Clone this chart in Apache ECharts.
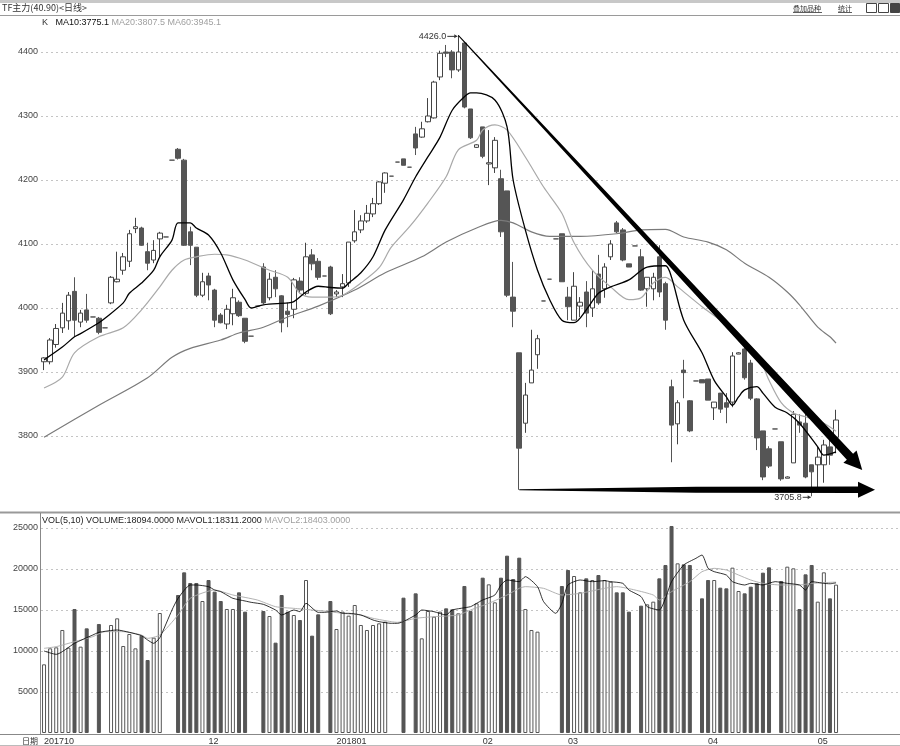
<!DOCTYPE html>
<html><head><meta charset="utf-8">
<script src="https://cdn.jsdelivr.net/npm/echarts@6/dist/echarts.min.js"></script>
<style>html,body{margin:0;padding:0;background:#fff}#c{width:900px;height:746px}</style>
</head><body><div id="c"></div>
<script>
// ---- data ----
const openP = [3916,3916,3943,3969,3980,4026,3978,3997,3986,3984,
3969,4008,4041,4059,4073,4124,4125,4088,4075,4108,
4111,4231,4248,4231,4119,4095,4020,4050,4028,3989,
3975,3991,4009,3984,3956,4003,4064,4016,4048,4019,
3995,3998,4042,4023,4083,4073,4050,4064,4022,4033,
4039,4105,4122,4136,4147,4163,4195,4206,4228,4233,
4220,4272,4267,4291,4297,4361,4400,4400,4372,4414,
4311,4251,4283,4225,4219,4202,4183,4017,3930,3820,
3883,3927,4011,4045,4108,4116,4017,3981,4003,4025,
4000,4053,4030,4080,4133,4122,4069,4097,4080,4030,
4030,4080,4038,3877,3819,3903,3855,3886,3888,3889,
3844,3867,3852,3853,3928,3936,3914,3858,3808,3780,
3811,3791,3734,3758,3822,3820,3755,3755,3755,3783,
3798];
const closeP = [3922,3950,3968,3992,4020,3981,3992,3981,3986,3962,
3969,4048,4045,4080,4116,4127,4098,4070,4090,4117,
4111,4231,4234,4098,4098,4020,4041,4036,3981,3977,
3998,4016,3988,3948,3956,4003,4008,4045,4030,3977,
3990,4044,4028,4080,4069,4048,4050,3991,4025,4038,
4103,4119,4136,4148,4163,4197,4211,4206,4228,4223,
4220,4250,4280,4300,4353,4398,4398,4372,4400,4314,
4266,4255,4237,4227,4262,4119,4020,3995,3781,3864,
3903,3952,4011,4045,4108,4041,4002,4034,4009,3992,
4030,4008,4064,4100,4119,4075,4064,4097,4028,4048,
4048,4025,3981,3817,3852,3899,3808,3886,3883,3856,
3853,3842,3845,3925,3930,3891,3859,3797,3736,3753,
3811,3733,3736,3834,3817,3736,3744,3767,3786,3770,
3825];
const lowP = [3903,3912,3938,3961,3966,3955,3970,3977,3986,3959,
3969,4006,4040,4052,4064,4117,4097,4059,4070,4080,
4111,4231,4232,4097,4067,4017,4017,4012,3970,3976,
3967,3973,3986,3945,3956,4003,4006,4012,4017,3962,
3970,3984,4023,4020,4059,4044,4050,3989,4017,4017,
4033,4102,4117,4133,4142,4161,4180,4206,4228,4223,
4220,4239,4266,4290,4296,4356,4392,4359,4369,4312,
4264,4250,4234,4192,4211,4111,4017,3970,3716,3805,
3883,3905,4011,4045,4108,4041,3981,3981,3986,3970,
3986,4005,4016,4075,4117,4073,4064,4097,4027,4002,
4012,4017,3966,3759,3787,3859,3806,3886,3883,3856,
3825,3836,3820,3845,3928,3888,3856,3778,3731,3750,
3811,3730,3734,3758,3805,3734,3705.8,3720,3727,3755,
3773];
const highP = [3923,3953,3975,4008,4025,4048,3997,4022,3986,3986,
3969,4050,4088,4086,4122,4141,4127,4102,4106,4119,
4111,4231,4250,4233,4127,4095,4055,4055,4030,3992,
4005,4030,4012,3984,3956,4003,4070,4055,4059,4020,
4008,4047,4048,4102,4092,4078,4050,4066,4028,4053,
4103,4153,4145,4161,4172,4198,4212,4206,4228,4233,
4220,4283,4291,4328,4355,4402,4411,4403,4426,4415,
4311,4256,4283,4278,4267,4216,4183,4072,3930,3883,
3966,3958,4011,4045,4108,4116,4033,4056,4017,4042,
4059,4083,4070,4106,4136,4125,4069,4097,4092,4048,
4055,4098,4041,3888,3856,3919,3856,3886,3888,3889,
3853,3867,3867,3931,3931,3947,3919,3859,3808,3784,
3811,3791,3737,3839,3834,3836,3755,3783,3794,3797,
3841];
const volume = [8374,10325,10447,12561,10406,15122,10528,12764,null,13293,
null,13170,13984,10610,12073,10325,11870,8902,11626,14634,
null,null,16829,19593,18293,18293,16097,18658,17236,16097,
15122,15122,17154,14797,null,null,14878,14268,11016,16829,
14797,14390,13780,18658,11870,14471,null,16097,12683,14797,
14309,15610,13171,12561,13171,13374,13577,null,null,16504,
null,17032,11545,14878,14187,14797,15203,15081,14593,17927,
14878,15813,18943,18130,15935,18943,21626,18780,21382,15122,
12561,12358,null,null,null,17927,19878,19146,17154,18862,
18658,19268,18658,18455,17154,17154,14797,null,15528,15691,
16016,18862,20488,25244,20691,20569,20488,null,16423,18658,
18658,17723,17642,20162,17317,17032,17845,18252,19553,20203,
null,18536,20284,20081,15122,19349,20488,16016,19593,16423,
18094];
// moving-average curves: [candle index, value]
const ma10Pts = [[0,3919],[3,3939],[5,3955],[6,3960],[9,3977],[10,3984],[13,4008],[14,4023],[16,4039],[18,4059],[19,4080],[21,4106],[22,4133],[24,4133],[25,4125],[27,4114],[29,4086],[31,4044],[33,4013],[34,4000],[36,4005],[40,4008],[41,4010],[43,4025],[45,4034],[47,4032],[49,4031],[50,4039],[52,4055],[54,4080],[56,4122],[59,4169],[61,4205],[63,4236],[65,4267],[67,4309],[69,4330],[70,4336],[71,4336],[74,4325],[76,4283],[77,4200],[79,4122],[81,4059],[83,4013],[85,3981],[87,3977],[89,3997],[91,4023],[93,4033],[96,4044],[99,4064],[102,4066],[103,4048],[105,3981],[108,3930],[110,3887],[112,3861],[113,3848],[114,3861],[115,3872],[117,3877],[118,3867],[120,3845],[122,3836],[124,3820],[127,3783],[128,3770],[130,3775.1]];
const ma20Pts = [[0,3875],[3,3892],[5,3930],[9,3955],[13,3969],[16,3997],[19,4033],[21,4059],[23,4075],[25,4080],[28,4084],[30,4083],[33,4075],[36,4063],[37,4059],[40,4048],[42,4023],[44,4017],[47,4017],[49,4020],[52,4039],[55,4063],[57,4095],[60,4127],[63,4164],[66,4205],[68,4247],[71,4262],[72,4278],[74,4286],[76,4278],[79,4236],[82,4189],[85,4148],[87,4102],[90,4059],[93,4033],[96,4013],[98,4016],[100,4039],[102,4048],[104,4033],[108,4002],[111,3981],[114,3955],[117,3930],[119,3887],[121,3852],[123,3836],[125,3830],[128,3820],[130,3807.5]];
const ma60Pts = [[0,3798],[9,3848],[17,3891],[21,3923],[24,3937],[29,3950],[32,3961],[36,3970],[40,3986],[45,4003],[51,4028],[56,4055],[62,4080],[66,4103],[71,4125],[75,4137],[77,4133],[80,4119],[83,4112],[88,4112],[94,4116],[98,4122],[102,4123],[105,4111],[109,4103],[112,4091],[115,4070],[119,4048],[122,4025],[124,4005],[127,3970],[129,3955],[130,3945.1]];
const mavol1Pts = [[0,10000],[2,9593],[5,10935],[8,11951],[9,12276],[12,12561],[14,12276],[16,11870],[17,11341],[18,10935],[19,11626],[21,15000],[22,16423],[24,18049],[25,18049],[27,17845],[28,17439],[29,17236],[30,16829],[31,16423],[33,16097],[34,15935],[36,15691],[38,15000],[39,14390],[41,15000],[42,14797],[43,15813],[45,14715],[46,14715],[48,14878],[49,14593],[50,14593],[52,14390],[54,13780],[55,13577],[57,13374],[58,13374],[61,14390],[62,15000],[64,14797],[66,14390],[67,15000],[70,15406],[71,15813],[72,16220],[74,16829],[75,18049],[76,18658],[78,18455],[79,19065],[81,17845],[82,16016],[84,14593],[85,15813],[86,18049],[88,18658],[90,18455],[92,18577],[93,18455],[95,18252],[96,17439],[98,16626],[99,15406],[101,15000],[102,16423],[103,18455],[105,20488],[107,21301],[108,21707],[109,20081],[110,19675],[112,19268],[113,18455],[115,18049],[116,18252],[118,18049],[120,18455],[122,18252],[124,18049],[125,17439],[126,18455],[128,18252],[129,18200],[130,18311.2]];
const mavol2Pts = [[0,10325],[2,10528],[5,11138],[8,11748],[10,12358],[13,12358],[16,11951],[17,11545],[19,11951],[22,14390],[24,16423],[28,17439],[31,16829],[35,16220],[38,15406],[41,15203],[44,15000],[46,14878],[49,14593],[52,14390],[54,13984],[57,13577],[58,13496],[61,13984],[64,14187],[68,14390],[70,15000],[73,15813],[76,16829],[78,17642],[79,17845],[82,17642],[85,16829],[88,17032],[92,17642],[94,17845],[97,17439],[100,16829],[101,16220],[103,17236],[106,18455],[108,19675],[110,20081],[112,19878],[114,19268],[116,18658],[118,18252],[121,18049],[124,18049],[126,18252],[128,18333],[130,18403]];
const monthTicks = {0:'201710',27:'12',48:'201801',72:'02',86:'03',109:'04',127:'05'};
const priceTicks = [3800,3900,4000,4100,4200,4300,4400];
const volTicks = [5000,10000,15000,20000,25000];
const emptySlots = 10;
const categories = [];
for (let i = 0; i < openP.length + emptySlots; i++) categories.push(String(i));
// drawn annotations, in data coordinates [index, price]
const peakPt = [68, 4426.0];
const lowPt = [126, 3705.8];
const trendTip = [134.3, 3747];
const flatFrom = [78, 3716], flatMid = [107, 3716], flatTip = [136.4, 3716];

// ---- chart ----
const FONT = '"Liberation Sans", Arial, sans-serif';
const CJK = '"Noto Sans CJK SC", sans-serif';
const chart = echarts.init(document.getElementById('c'), null, {renderer:'canvas', width:900, height:746});
const candleData = openP.map((o, i) => [o, closeP[i], lowP[i], highP[i]]);
const volData = volume.map((v, i) => v == null ? '-' : {
  value: v,
  itemStyle: closeP[i] >= openP[i]
    ? {color:'#ffffff', borderColor:'#555', borderWidth:1}
    : {color:'#555555', borderColor:'#555', borderWidth:1}
});
const gridLine = {show:true, showMinLine:false, showMaxLine:false, lineStyle:{color:'#c4c4c4', type:[2,3], width:1}};
const option = {
  animation:false,
  backgroundColor:'#ffffff',
  grid:[
    {left:41, width:859, top:13.6, height:486.4},
    {left:41, width:859, top:519.8, height:213.2}
  ],
  xAxis:[
    {type:'category', data:categories, gridIndex:0, show:false, boundaryGap:true},
    {type:'category', data:categories, gridIndex:1, boundaryGap:true,
     axisLine:{show:false}, axisTick:{show:false}, splitLine:{show:false},
     axisLabel:{interval:(i) => monthTicks[i] !== undefined, formatter:(v, i) => monthTicks[i] || '',
       align:'left', margin:4, fontSize:9, color:'#333', fontFamily:FONT}}
  ],
  yAxis:[
    {type:'value', gridIndex:0, min:3700, max:4460, interval:100, axisLine:{show:false}, axisTick:{show:false},
     axisLabel:{formatter:(v) => priceTicks.includes(v) ? String(v) : '', fontSize:9, color:'#444', margin:3, fontFamily:FONT},
     splitLine:gridLine},
    {type:'value', gridIndex:1, min:0, max:26000, interval:5000, axisLine:{show:false}, axisTick:{show:false},
     axisLabel:{formatter:(v) => volTicks.includes(v) ? String(v) : '', fontSize:9, color:'#444', margin:3, fontFamily:FONT},
     splitLine:gridLine}
  ],
  series:[
    {type:'candlestick', xAxisIndex:0, yAxisIndex:0, data:candleData, barWidth:5,
     itemStyle:{color:'#ffffff', color0:'#555555', borderColor:'#444', borderColor0:'#555', borderColorDoji:'#555', borderWidth:1}},
    {type:'line', xAxisIndex:0, yAxisIndex:0, data:ma60Pts, smooth:0.3, symbol:'none', lineStyle:{color:'#7a7a7a', width:1.2}},
    {type:'line', xAxisIndex:0, yAxisIndex:0, data:ma20Pts, smooth:0.3, symbol:'none', lineStyle:{color:'#a9a9a9', width:1.2}},
    {type:'line', xAxisIndex:0, yAxisIndex:0, data:ma10Pts, smooth:0.3, symbol:'none', lineStyle:{color:'#000', width:1.3}},
    {type:'bar', xAxisIndex:1, yAxisIndex:1, data:volData, barWidth:4},
    {type:'line', xAxisIndex:1, yAxisIndex:1, data:mavol2Pts, smooth:0.2, symbol:'none', lineStyle:{color:'#a9a9a9', width:0.9}},
    {type:'line', xAxisIndex:1, yAxisIndex:1, data:mavol1Pts, smooth:0.2, symbol:'none', lineStyle:{color:'#000', width:0.8}}
  ]
};
chart.setOption(option);

// pixel helpers through the chart's own scales
const P = (pt) => chart.convertToPixel({gridIndex:0}, pt);
const x0 = P([0, 4000])[0], band = P([1, 4000])[0] - x0;
const px = (pt) => [x0 + pt[0] * band, P([0, pt[1]])[1]];

function arrowPoly(a, b, w0, tMid, wMid, w1, headLen, headHalf) {
  const dx = b[0]-a[0], dy = b[1]-a[1], L = Math.hypot(dx, dy);
  const ux = dx/L, uy = dy/L, nx = -uy, ny = ux;
  const base = [b[0]-ux*headLen, b[1]-uy*headLen];
  const mid = [a[0]+(base[0]-a[0])*tMid, a[1]+(base[1]-a[1])*tMid];
  const o = (p, w, s) => [p[0]+s*nx*w/2, p[1]+s*ny*w/2];
  return [o(a,w0,1), o(mid,wMid,1), o(base,w1,1), o(base,headHalf*2,1), b,
          o(base,headHalf*2,-1), o(base,w1,-1), o(mid,wMid,-1), o(a,w0,-1)];
}
const txt = (x, y, text, extra) => Object.assign({type:'text', x:x, y:y, z:100,
  style:Object.assign({text:text, fill:'#333', fontSize:9, fontFamily:FONT, verticalAlign:'middle', textVerticalAlign:'middle'}, extra || {})});
const hline = (x1, x2, y, stroke, w) => ({type:'line', z:100, shape:{x1:x1, y1:y, x2:x2, y2:y}, style:{stroke:stroke, lineWidth:w || 1}});

const pk = px(peakPt), lw = px(lowPt), tt = px(trendTip);
const f0 = px(flatFrom), fm = px(flatMid), ft = px(flatTip);
const tMidFlat = (fm[0]-f0[0]) / (ft[0]-17-f0[0]);

const elements = [
  {type:'rect', z:100, shape:{x:0, y:0, width:900, height:3}, style:{fill:'#c8c8c8'}},
  hline(0, 900, 15.5, '#9a9a9a', 1),
  txt(2, 8, 'TF主力(40.90)<日线>', {fontFamily:CJK, fontSize:9}),
  txt(793, 8, '叠加品种', {fontFamily:CJK, fontSize:7}),
  hline(793, 822, 12.5, '#333', 0.8),
  txt(838, 8, '统计', {fontFamily:CJK, fontSize:7}),
  hline(838, 852, 12.5, '#333', 0.8),
  {type:'rect', z:100, shape:{x:866.5, y:3.5, width:10, height:9}, style:{fill:'#fff', stroke:'#444', lineWidth:1}},
  {type:'rect', z:100, shape:{x:878.5, y:3.5, width:10, height:9}, style:{fill:'#fff', stroke:'#444', lineWidth:1}},
  {type:'rect', z:100, shape:{x:890.5, y:3.5, width:9, height:9}, style:{fill:'#444', stroke:'#444', lineWidth:1}},
  txt(42, 23, '{k|K}   {a|MA10:3775.1} {b|MA20:3807.5} {b|MA60:3945.1}', {
    rich:{k:{fill:'#333', fontSize:9, fontFamily:FONT}, a:{fill:'#111', fontSize:9, fontFamily:FONT}, b:{fill:'#a0a0a0', fontSize:9, fontFamily:FONT}}}),
  hline(0, 900, 512.5, '#999', 2),
  txt(42, 521, '{a|VOL(5,10) VOLUME:18094.0000 MAVOL1:18311.2000} {b|MAVOL2:18403.0000}', {
    rich:{a:{fill:'#222', fontSize:9, fontFamily:FONT}, b:{fill:'#a0a0a0', fontSize:9, fontFamily:FONT}}}),
  {type:'line', z:100, shape:{x1:40.5, y1:513, x2:40.5, y2:734}, style:{stroke:'#888', lineWidth:1}},
  hline(0, 900, 734.5, '#888', 1),
  hline(0, 900, 745.5, '#bbb', 1),
  txt(22, 741, '日期', {fontFamily:CJK, fontSize:8}),
  // tapered trend arrow from the 4426 high
  {type:'polygon', z:100, shape:{points:arrowPoly(pk, tt, 1, 0.5, 4.8, 8.5, 18, 9)}, style:{fill:'#000'}},
  // flat arrow along the low
  {type:'polygon', z:100, shape:{points:arrowPoly(f0, ft, 1, tMidFlat, 6, 6.5, 17, 8)}, style:{fill:'#000'}},
  // high / low labels
  txt(pk[0]-12, pk[1]+1, '4426.0', {align:'right', textAlign:'right'}),
  hline(pk[0]-11, pk[0]-1, pk[1]+1, '#333', 1),
  {type:'polygon', z:100, shape:{points:[[pk[0]-1, pk[1]+1],[pk[0]-4, pk[1]-1],[pk[0]-4, pk[1]+3]]}, style:{fill:'#333'}},
  txt(lw[0]-10, lw[1]+1, '3705.8', {align:'right', textAlign:'right'}),
  hline(lw[0]-9, lw[0]-1, lw[1]+1, '#333', 1),
  {type:'polygon', z:100, shape:{points:[[lw[0]-1, lw[1]+1],[lw[0]-4, lw[1]-1],[lw[0]-4, lw[1]+3]]}, style:{fill:'#333'}}
];
chart.setOption({graphic:{elements:elements}});
</script>
</body></html>
